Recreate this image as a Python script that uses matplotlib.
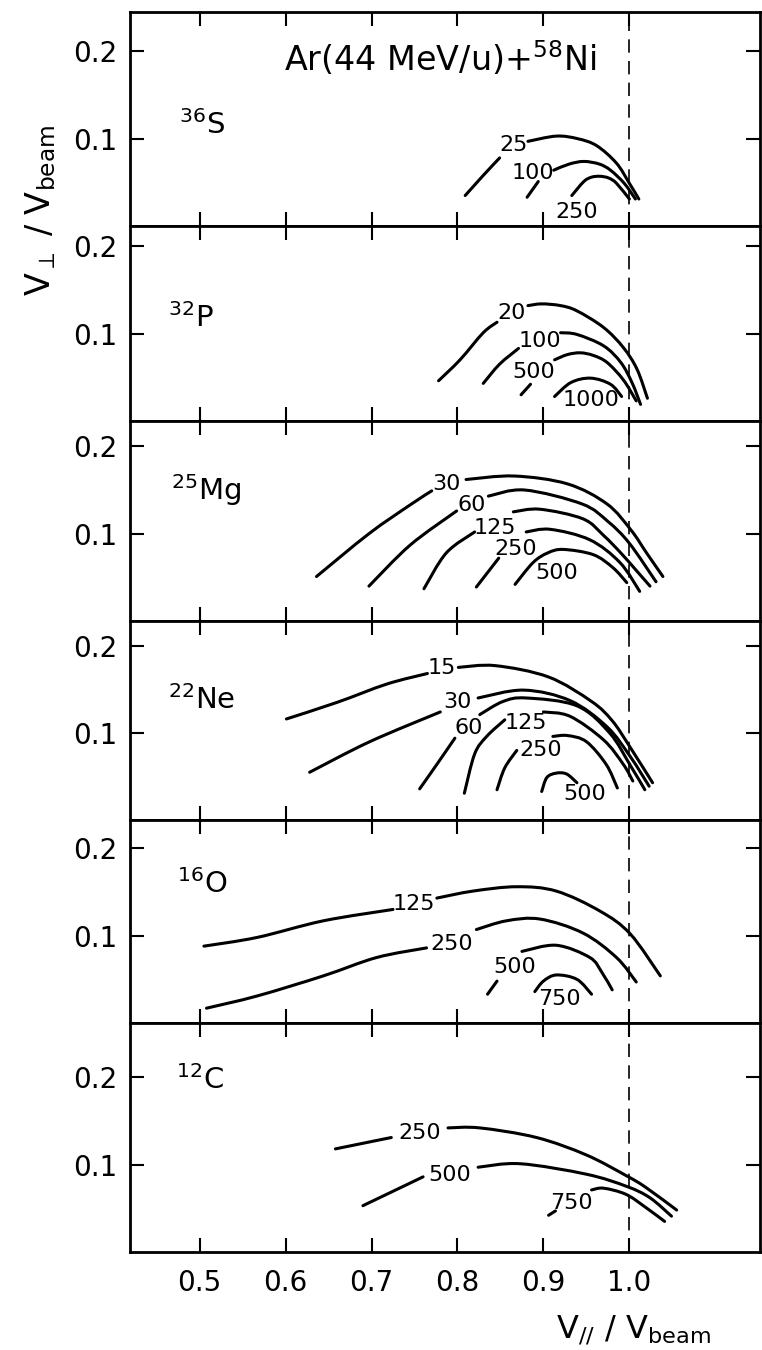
import numpy as np
import matplotlib
matplotlib.use("Agg")
import matplotlib.pyplot as plt
from matplotlib.path import Path
from matplotlib.patches import PathPatch

plt.rcParams['font.family'] = ['DejaVu Sans']
plt.rcParams['mathtext.fontset'] = 'custom'
plt.rcParams['mathtext.rm'] = 'DejaVu Sans'
plt.rcParams['mathtext.it'] = 'DejaVu Sans'

# fragments, top to bottom
masses = [36, 32, 25, 22, 16, 12]
elements = ['S', 'P', 'Mg', 'Ne', 'O', 'C']
y_tops = [0.245, 0.223, 0.229, 0.228, 0.232, 0.262]

x_ticks = [0.5, 0.6, 0.7, 0.8, 0.9, 1.0]
x_tick_labels = ['0.5', '0.6', '0.7', '0.8', '0.9', '1.0']
y_ticks = [0.1, 0.2]
y_tick_labels = ['0.1', '0.2']

# 36S
s_levels = [25, 100, 250]
s_x = [[0.809, 0.830, 0.849, 0.882, 0.915, 0.940, 0.962, 0.985, 1.000, 1.011],
       [0.881, 0.894, 0.912, 0.930, 0.947, 0.965, 0.978, 0.994, 1.007],
       [0.933, 0.947, 0.956, 0.966, 0.976, 0.985, 1.000]]
s_y = [[0.035, 0.058, 0.078, 0.097, 0.103, 0.100, 0.092, 0.072, 0.049, 0.031],
       [0.033, 0.051, 0.064, 0.071, 0.074, 0.071, 0.064, 0.049, 0.031],
       [0.035, 0.051, 0.056, 0.057, 0.055, 0.049, 0.031]]
s_brk = [3, 2, 0]
s_lab = [(0.865, 0.093), (0.888, 0.061), (0.939, 0.016)]

# 32P
p_levels = [20, 100, 500, 1000]
p_x = [[0.778, 0.803, 0.830, 0.846, 0.882, 0.898, 0.920, 0.939, 0.970, 0.993, 1.009, 1.021],
       [0.830, 0.849, 0.871, 0.920, 0.939, 0.970, 0.990, 1.003, 1.013],
       [0.874, 0.885, 0.913, 0.928, 0.943, 0.958, 0.974, 0.993, 1.008],
       [0.913, 0.932, 0.955, 0.978, 0.991]]
p_y = [[0.046, 0.070, 0.101, 0.113, 0.132, 0.134, 0.132, 0.126, 0.107, 0.084, 0.059, 0.026],
       [0.043, 0.065, 0.083, 0.101, 0.099, 0.086, 0.067, 0.044, 0.019],
       [0.030, 0.042, 0.070, 0.076, 0.078, 0.075, 0.067, 0.047, 0.023],
       [0.028, 0.044, 0.049, 0.042, 0.028]]
p_brk = [4, 3, 2, 0]
p_lab = [(0.863, 0.123), (0.896, 0.092), (0.889, 0.056), (0.955, 0.024)]

# 25Mg
mg_levels = [30, 60, 125, 250, 500]
mg_x = [[0.636, 0.697, 0.745, 0.770, 0.810, 0.866, 0.928, 0.974, 1.002, 1.020, 1.039],
        [0.697, 0.745, 0.799, 0.836, 0.878, 0.945, 0.975, 1.000, 1.031],
        [0.761, 0.787, 0.820, 0.865, 0.896, 0.946, 0.970, 0.990, 1.008, 1.024],
        [0.822, 0.848, 0.880, 0.908, 0.954, 0.989, 1.012],
        [0.867, 0.888, 0.905, 0.923, 0.958, 0.981, 0.997]]
mg_y = [[0.051, 0.100, 0.133, 0.149, 0.162, 0.166, 0.157, 0.134, 0.104, 0.078, 0.051],
        [0.040, 0.087, 0.126, 0.143, 0.150, 0.134, 0.114, 0.089, 0.045],
        [0.037, 0.078, 0.102, 0.125, 0.128, 0.117, 0.098, 0.078, 0.058, 0.040],
        [0.039, 0.072, 0.102, 0.105, 0.093, 0.067, 0.034],
        [0.042, 0.067, 0.078, 0.082, 0.076, 0.061, 0.044]]
mg_brk = [4, 3, 3, 2, 0]
mg_lab = [(0.787, 0.157), (0.816, 0.133), (0.843, 0.107), (0.868, 0.083), (0.916, 0.055)]

# 22Ne
ne_levels = [15, 30, 60, 125, 250, 500]
ne_x = [[0.601, 0.660, 0.718, 0.765, 0.801, 0.844, 0.906, 0.956, 0.980, 1.000, 1.027],
        [0.628, 0.698, 0.780, 0.824, 0.877, 0.931, 0.974, 1.001, 1.023],
        [0.756, 0.776, 0.797, 0.826, 0.853, 0.880, 0.939, 0.977, 1.001, 1.018],
        [0.808, 0.820, 0.834, 0.855, 0.900, 0.931, 0.970, 0.993, 1.004],
        [0.846, 0.855, 0.869, 0.911, 0.928, 0.950, 0.973, 0.986],
        [0.898, 0.904, 0.915, 0.927, 0.939]]
ne_y = [[0.116, 0.135, 0.156, 0.168, 0.175, 0.177, 0.164, 0.136, 0.114, 0.085, 0.043],
        [0.055, 0.090, 0.124, 0.140, 0.149, 0.137, 0.107, 0.073, 0.039],
        [0.036, 0.064, 0.094, 0.121, 0.136, 0.140, 0.131, 0.100, 0.063, 0.035],
        [0.031, 0.076, 0.096, 0.115, 0.124, 0.119, 0.092, 0.064, 0.045],
        [0.035, 0.060, 0.080, 0.096, 0.097, 0.090, 0.064, 0.037],
        [0.033, 0.049, 0.054, 0.053, 0.043]]
ne_brk = [4, 3, 3, 4, 3, 0]
ne_lab = [(0.782, 0.174), (0.800, 0.135), (0.813, 0.106), (0.879, 0.111), (0.897, 0.080), (0.948, 0.030)]

# 16O
o_levels = [125, 250, 500, 750]
o_x = [[0.505, 0.567, 0.644, 0.725, 0.776, 0.818, 0.869, 0.915, 0.966, 1.001, 1.036],
       [0.508, 0.567, 0.644, 0.706, 0.764, 0.822, 0.857, 0.896, 0.946, 0.985, 1.008],
       [0.835, 0.846, 0.875, 0.915, 0.954, 0.968, 0.980],
       [0.890, 0.900, 0.915, 0.939, 0.956]]
o_y = [[0.088, 0.098, 0.117, 0.130, 0.143, 0.151, 0.156, 0.151, 0.128, 0.102, 0.054],
       [0.017, 0.031, 0.054, 0.075, 0.086, 0.107, 0.117, 0.119, 0.103, 0.075, 0.047],
       [0.033, 0.048, 0.082, 0.089, 0.075, 0.058, 0.038],
       [0.036, 0.048, 0.055, 0.050, 0.033]]
o_brk = [4, 5, 2, 0]
o_lab = [(0.749, 0.136), (0.793, 0.091), (0.867, 0.064), (0.919, 0.028)]

# 12C
c_levels = [250, 500, 750]
c_x = [[0.658, 0.723, 0.789, 0.826, 0.892, 0.950, 0.997, 1.019, 1.055],
       [0.690, 0.760, 0.824, 0.873, 0.950, 0.997, 1.024, 1.049],
       [0.906, 0.914, 0.956, 0.970, 0.996, 1.019, 1.041]]
c_y = [[0.118, 0.131, 0.142, 0.142, 0.131, 0.111, 0.087, 0.074, 0.048],
       [0.053, 0.086, 0.097, 0.101, 0.089, 0.075, 0.062, 0.041],
       [0.042, 0.047, 0.071, 0.073, 0.066, 0.051, 0.035]]
c_brk = [2, 2, 2]
c_lab = [(0.756, 0.136), (0.791, 0.088), (0.933, 0.056)]

panels = [
    (s_levels, s_x, s_y, s_brk, s_lab),
    (p_levels, p_x, p_y, p_brk, p_lab),
    (mg_levels, mg_x, mg_y, mg_brk, mg_lab),
    (ne_levels, ne_x, ne_y, ne_brk, ne_lab),
    (o_levels, o_x, o_y, o_brk, o_lab),
    (c_levels, c_x, c_y, c_brk, c_lab),
]
# where the isotope name sits (left edge, baseline)
iso_pos = [(0.476, 0.105), (0.463, 0.107), (0.467, 0.139),
           (0.463, 0.127), (0.474, 0.149), (0.472, 0.186)]


def smooth(ax, x, y):
    # draw a smooth curve through the read points (catmull-rom as bezier)
    pts = np.column_stack([x, y])
    if len(pts) < 3:
        ax.plot(x, y, color='k', lw=2.2, solid_capstyle='round')
        return
    verts = [pts[0]]
    codes = [Path.MOVETO]
    n = len(pts)
    for i in range(n - 1):
        p0 = pts[i - 1] if i > 0 else pts[i]
        p1 = pts[i]
        p2 = pts[i + 1]
        p3 = pts[i + 2] if i + 2 < n else pts[i + 1]
        verts += [p1 + (p2 - p0) / 6, p2 - (p3 - p1) / 6, p2]
        codes += [Path.CURVE4] * 3
    ax.add_patch(PathPatch(Path(verts, codes), fill=False, edgecolor='k',
                           lw=2.2, capstyle='round'))


fig = plt.figure(figsize=(7.62, 13.5), dpi=100)
gs = fig.add_gridspec(6, 1, height_ratios=y_tops, hspace=0,
                      left=0.1706, right=0.9974, top=0.9911, bottom=0.0726)

for i, (levels, xs, ys, brks, labs) in enumerate(panels):
    ax = fig.add_subplot(gs[i])
    ax.set_xlim(0.419, 1.152)
    ax.set_ylim(0, y_tops[i])

    for lev, x, y, b, (lx, ly) in zip(levels, xs, ys, brks, labs):
        if b:
            smooth(ax, x[:b], y[:b])
            smooth(ax, x[b:], y[b:])
        else:
            smooth(ax, x, y)
        ax.text(lx, ly, str(lev), fontsize=16, ha='center', va='center')

    ax.axvline(1.0, color='k', lw=1.2, dashes=(8, 5))

    ix, iy = iso_pos[i]
    ax.text(ix, iy, r"$^{%d}$%s" % (masses[i], elements[i]), fontsize=21,
            ha='left', va='baseline')

    ax.set_xticks(x_ticks)
    ax.set_yticks(y_ticks, labels=y_tick_labels)
    ax.tick_params(direction='in', length=10, width=1.5, top=True, right=True,
                   labelsize=20)
    ax.tick_params(axis='y', pad=9)
    ax.tick_params(axis='x', pad=12)
    if i < 5:
        ax.tick_params(axis='x', labelbottom=False)
    else:
        ax.set_xticklabels(x_tick_labels)
    for sp in ax.spines.values():
        sp.set_linewidth(2)
    if i == 0:
        ax.text(0.598, 0.177, r"Ar(44 MeV/u)+$^{58}$Ni", fontsize=24,
                ha='left', va='baseline')

fig.text(0.054, 0.844, r"V$_{\perp}$ / V$_{\mathrm{beam}}$", rotation=90,
         fontsize=24, ha='center', va='center')
fig.text(0.831, 0.0148, r"V$_{//}$ / V$_{\mathrm{beam}}$",
         fontsize=23, ha='center', va='center')

fig.savefig("out.png", dpi=100)
